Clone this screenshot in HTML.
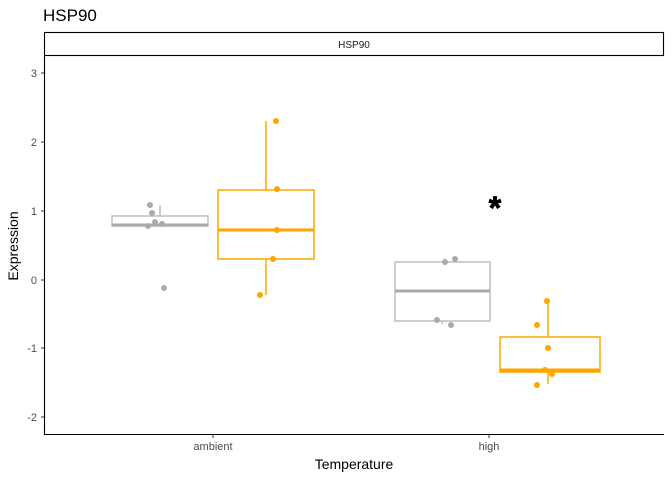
<!DOCTYPE html><html><head><style>body{margin:0;background:#fff}svg{display:block;font-family:"Liberation Sans",sans-serif}</style></head><body>
<svg width="672" height="480" xmlns="http://www.w3.org/2000/svg">
<text x="43" y="21" font-size="17" fill="#000">HSP90</text>
<rect x="44.5" y="32.5" width="619" height="23" fill="#fff" stroke="#000" stroke-width="1.1"/>
<text x="354" y="48" font-size="10" text-anchor="middle" fill="#1a1a1a">HSP90</text>
<line x1="44.5" y1="56" x2="44.5" y2="435" stroke="#000" stroke-width="1.1"/>
<line x1="44" y1="434.5" x2="664" y2="434.5" stroke="#000" stroke-width="1.1"/>
<g font-size="11" fill="#4d4d4d" text-anchor="end">
<text x="37" y="77">3</text><text x="37" y="146">2</text><text x="37" y="215">1</text><text x="37" y="284">0</text><text x="37" y="352">-1</text><text x="37" y="421">-2</text></g>
<g stroke="#333" stroke-width="1"><line x1="41" y1="73" x2="44" y2="73"/><line x1="41" y1="142" x2="44" y2="142"/><line x1="41" y1="211" x2="44" y2="211"/><line x1="41" y1="280" x2="44" y2="280"/><line x1="41" y1="348" x2="44" y2="348"/><line x1="41" y1="417" x2="44" y2="417"/><line x1="213" y1="435" x2="213" y2="438"/><line x1="489" y1="435" x2="489" y2="438"/></g>
<g font-size="11" fill="#4d4d4d" text-anchor="middle"><text x="213" y="450">ambient</text><text x="489" y="450">high</text></g>
<text x="354" y="469" font-size="14" text-anchor="middle">Temperature</text>
<text transform="translate(18,246) rotate(-90)" font-size="14" text-anchor="middle">Expression</text>
<g fill="none" stroke="#bebebe" stroke-width="1.5">
<line x1="160" y1="205" x2="160" y2="216"/><rect x="112" y="216" width="96" height="10"/>
<rect x="395" y="262" width="95" height="59"/><line x1="442" y1="321" x2="442" y2="324"/></g>
<g stroke="#aaa" stroke-width="3"><line x1="112" y1="225" x2="208" y2="225"/><line x1="395" y1="291" x2="490" y2="291"/></g>
<g fill="none" stroke="#FFA500" stroke-width="1.5">
<line x1="266" y1="121" x2="266" y2="190"/><line x1="266" y1="259" x2="266" y2="295"/><rect x="218" y="190" width="96" height="69"/>
<line x1="548" y1="301" x2="548" y2="337"/><line x1="548" y1="372" x2="548" y2="384"/><rect x="500" y="337" width="100" height="35"/></g>
<g stroke="#FFA500" stroke-width="3"><line x1="218" y1="230" x2="314" y2="230"/><line x1="500" y1="370" x2="600" y2="370"/></g>
<g fill="#aaa"><circle cx="150" cy="205" r="3"/><circle cx="152" cy="213" r="3"/><circle cx="155" cy="222" r="3"/><circle cx="148" cy="226" r="3"/><circle cx="162" cy="224" r="3"/><circle cx="164" cy="288" r="3"/>
<circle cx="445" cy="262" r="3"/><circle cx="455" cy="259" r="3"/><circle cx="437" cy="320" r="3"/><circle cx="451" cy="325" r="3"/></g>
<g fill="#FFA500"><circle cx="276" cy="121" r="3"/><circle cx="277" cy="189" r="3"/><circle cx="277" cy="230" r="3"/><circle cx="273" cy="259" r="3"/><circle cx="260" cy="295" r="3"/>
<circle cx="547" cy="301" r="3"/><circle cx="537" cy="325" r="3"/><circle cx="548" cy="348" r="3"/><circle cx="545" cy="370" r="3"/><circle cx="552" cy="374" r="3"/><circle cx="537" cy="385" r="3"/></g>
<text x="495" y="219" font-size="32" font-weight="bold" text-anchor="middle" stroke="#000" stroke-width="0.8">*</text>
</svg></body></html>
